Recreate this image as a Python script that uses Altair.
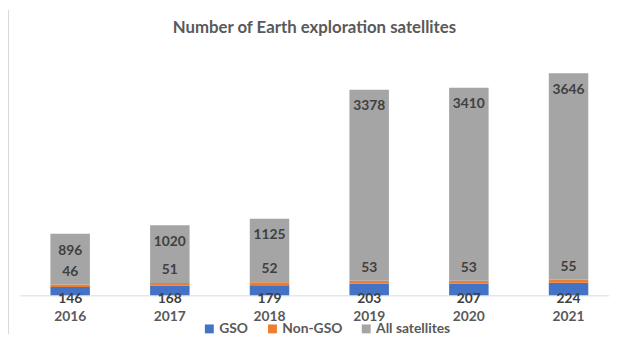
import altair as alt
import pandas as pd

years = ["2016", "2017", "2018", "2019", "2020", "2021"]
gso = [146, 168, 179, 203, 207, 224]
non_gso = [46, 51, 52, 53, 53, 55]
all_sat = [896, 1020, 1125, 3378, 3410, 3646]
series = ["GSO", "Non-GSO", "All satellites"]
colors = ["#4472C4", "#ED7D31", "#A5A5A5"]

rows = []
for i, y in enumerate(years):
    for k, (name, vals) in enumerate(zip(series, [gso, non_gso, all_sat])):
        rows.append({"year": y, "series": name, "value": vals[i], "ord": k})
df = pd.DataFrame(rows)

FONT = "Lato"
x = alt.X("year:N", title=None,
          scale=alt.Scale(paddingInner=0.604, paddingOuter=0.2574, align=0.596),
          axis=alt.Axis(labelAngle=0, ticks=False, labelPadding=14, labelFontSize=14,
                        labelColor="#595959", labelFont=FONT, labelFontWeight="bold",
                        domainColor="#d9d9d9", domainWidth=1))
yscale = alt.Scale(domain=[0, 4500])

base = alt.Chart(df).transform_stack(
    stack="value", groupby=["year"], sort=[alt.SortField("ord", order="ascending")],
    as_=["y0", "y1"]
)

bars = base.mark_bar().encode(
    x=x,
    y=alt.Y("y0:Q", scale=yscale, axis=None),
    y2="y1:Q",
    color=alt.Color("series:N", scale=alt.Scale(domain=series, range=colors),
                    sort=series,
                    legend=alt.Legend(title=None, orient="none", legendX=185, legendY=285,
                                      direction="horizontal", symbolType="square",
                                      symbolSize=81, symbolStrokeWidth=0,
                                      labelFontSize=14, labelColor="#595959",
                                      labelFont=FONT, labelFontWeight="bold",
                                      labelOffset=3, columnPadding=17)),
)

txt = dict(font=FONT, fontSize=14, fontWeight="bold", color="#404040", align="center",
           baseline="middle")

lab_gso = base.transform_filter(alt.datum.series == "GSO").mark_text(dy=4, **txt).encode(
    x="year:N", y=alt.Y("y0:Q", scale=yscale), text="value:Q")
lab_non = base.transform_filter(alt.datum.series == "Non-GSO").mark_text(dy=-13, **txt).encode(
    x="year:N", y=alt.Y("y1:Q", scale=yscale), text="value:Q")
lab_all = base.transform_filter(alt.datum.series == "All satellites").mark_text(dy=17, **txt).encode(
    x="year:N", y=alt.Y("y1:Q", scale=yscale), text="value:Q")

border = alt.Chart(df).mark_rule(color="#d9d9d9", strokeWidth=1).encode(
    x=alt.value(-12), y=alt.value(-31), y2=alt.value(297))

chart = alt.layer(bars, lab_gso, lab_non, lab_all, border).properties(
    width=597, height=258,
    title=alt.TitleParams("Number of Earth exploration satellites", fontSize=17,
                          color="#595959", font=FONT, fontWeight="bold", offset=8, dy=36,
                          anchor="middle", frame="group"),
    padding={"left": 12, "top": 31, "right": 0, "bottom": 39},
    autosize=alt.AutoSizeParams(type="none"),
).configure_view(stroke=None)

chart.save("out.html", embed_options={"renderer": "svg", "actions": False})
